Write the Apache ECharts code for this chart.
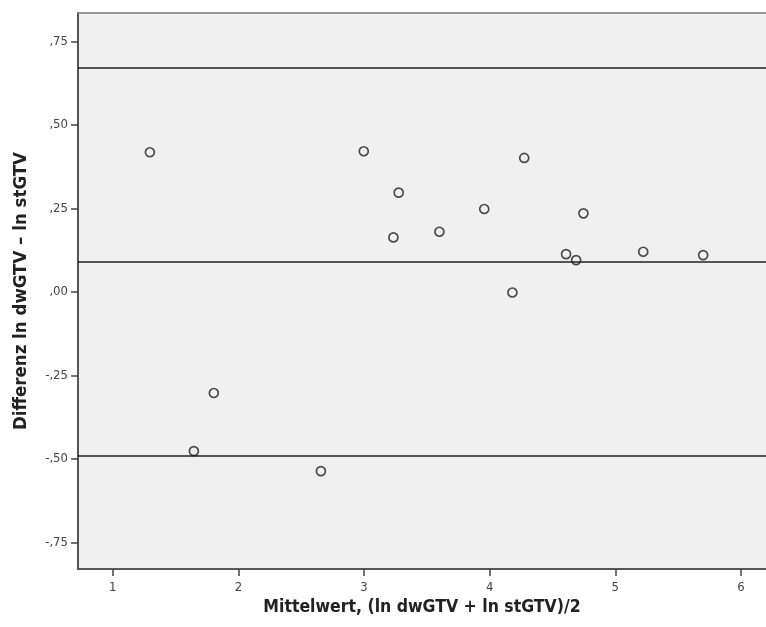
<!DOCTYPE html>
<html>
<head>
<meta charset="utf-8">
<script src="https://cdn.jsdelivr.net/npm/echarts@6/dist/echarts.min.js"></script>
<style>
html,body{margin:0;padding:0;background:#fff;}
#chart{width:766px;height:627px;}
</style>
</head>
<body>
<div id="chart"></div>
<script>
// Mean of the two log measurements (x) and their difference (y)
var meanValues = [1.296, 2.998, 3.276, 3.234, 3.600, 4.275, 3.957, 4.746, 4.608, 4.688, 5.222, 5.699, 4.181, 1.805, 1.646, 2.657];
var diffValues = [0.418, 0.421, 0.297, 0.163, 0.180, 0.401, 0.248, 0.235, 0.113, 0.095, 0.120, 0.110, -0.002, -0.303, -0.477, -0.537];
// Reference lines: upper limit, mean difference, lower limit
var refLines = [0.669, 0.092, -0.486];
var xTicks = [1, 2, 3, 4, 5, 6];
var yTicks = [-0.75, -0.5, -0.25, 0, 0.25, 0.5, 0.75];
var yTickLabels = ['-,75', '-,50', '-,25', ',00', ',25', ',50', ',75'];
var xTitle = 'Mittelwert, (ln dwGTV + ln stGTV)/2';
var yTitle = 'Differenz ln dwGTV \u2013 ln stGTV';

var points = meanValues.map(function (m, i) { return [m, diffValues[i]]; });
var tickFont = 'DejaVu Sans Condensed, DejaVu Sans, sans-serif';
var xMin = 0.724, xMax = 6.199;

var chart = echarts.init(document.getElementById('chart'), null, {renderer: 'canvas'});
chart.setOption({
  animation: false,
  backgroundColor: '#ffffff',
  grid: {
    left: 78, top: 13, right: 0, bottom: 58,
    show: true, backgroundColor: '#f0f0f0', borderWidth: 0
  },
  xAxis: [{
    type: 'value', min: xMin, max: xMax,
    name: xTitle, nameLocation: 'middle', nameGap: 28,
    nameTextStyle: {fontFamily: tickFont, fontWeight: 'bold', fontSize: 17.5, color: '#222'},
    axisLine: {show: true, onZero: false, lineStyle: {color: '#555', width: 2}},
    axisTick: {show: true, length: 7, customValues: xTicks, lineStyle: {color: '#444', width: 1.5}},
    axisLabel: {customValues: xTicks, fontFamily: tickFont, fontSize: 13, color: '#444', margin: 12},
    splitLine: {show: false}
  }, {
    type: 'value', position: 'top', min: xMin, max: xMax,
    axisLine: {show: true, onZero: false, lineStyle: {color: '#777', width: 1.5}},
    axisTick: {show: false}, axisLabel: {show: false}, splitLine: {show: false}
  }],
  yAxis: {
    type: 'value', min: -0.83, max: 0.835,
    name: yTitle, nameLocation: 'middle', nameGap: 47, nameRotate: 90,
    nameTextStyle: {fontFamily: tickFont, fontWeight: 'bold', fontSize: 18.5, color: '#222'},
    axisLine: {show: true, onZero: false, lineStyle: {color: '#555', width: 2}},
    axisTick: {show: true, length: 7, customValues: yTicks, lineStyle: {color: '#444', width: 1.5}},
    axisLabel: {
      customValues: yTicks, fontFamily: tickFont, fontSize: 13, color: '#444', margin: 10,
      formatter: function (v) {
        for (var i = 0; i < yTicks.length; i++) {
          if (Math.abs(yTicks[i] - v) < 1e-9) return yTickLabels[i];
        }
        return '';
      }
    },
    splitLine: {show: false}
  },
  series: [{
    type: 'scatter',
    data: points,
    symbol: 'circle',
    symbolSize: 9,
    itemStyle: {color: 'rgba(0,0,0,0)', borderColor: '#222', borderWidth: 1.7},
    markLine: {
      silent: true,
      symbol: ['none', 'none'],
      label: {show: false},
      lineStyle: {color: '#222', width: 1.5, type: 'solid'},
      data: refLines.map(function (v) { return {yAxis: v}; })
    },
    z: 3
  }]
});
</script>
</body>
</html>
